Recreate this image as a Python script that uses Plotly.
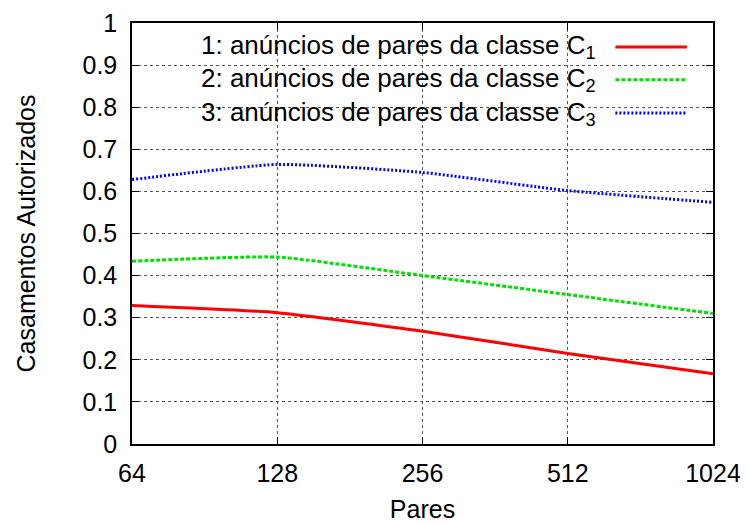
import plotly.graph_objects as go

pares = [64, 128, 256, 512, 1024]
classe_c1 = [0.329, 0.312, 0.268, 0.215, 0.167]
classe_c2 = [0.434, 0.444, 0.400, 0.355, 0.310]
classe_c3 = [0.628, 0.664, 0.645, 0.602, 0.574]
y_ticks = [0, 0.1, 0.2, 0.3, 0.4, 0.5, 0.6, 0.7, 0.8, 0.9, 1]
y_tick_labels = ["0", "0.1", "0.2", "0.3", "0.4", "0.5", "0.6", "0.7", "0.8", "0.9", "1"]
labels = ["1: anúncios de pares da classe C<sub>1</sub>",
          "2: anúncios de pares da classe C<sub>2</sub>",
          "3: anúncios de pares da classe C<sub>3</sub>"]
colors = ["#ff0000", "#00e000", "#0000ff"]
dashes = ["solid", "4px,2px", "2px,2px"]

FONT = "Liberation Sans, Arial, sans-serif"

fig = go.Figure()
for vals, col, dash, lab in zip([classe_c1, classe_c2, classe_c3], colors, dashes, labels):
    fig.add_trace(go.Scatter(x=pares, y=vals, mode="lines", name=lab,
                             line=dict(color=col, width=3, dash=dash, shape="spline", smoothing=0.5),
                             showlegend=False))

# legend box (opaque, covers grid)
fig.add_shape(type="rect", xref="paper", yref="paper", x0=0.0878, x1=1.0, y0=0.739, y1=1.0,
              fillcolor="white", line=dict(width=0), layer="between")

legend_y = [0.943, 0.865, 0.786]
for lab, col, dash, ly in zip(labels, colors, dashes, legend_y):
    fig.add_annotation(text=lab, xref="paper", yref="paper", x=0.802, y=ly,
                       xanchor="right", yanchor="middle", showarrow=False,
                       font=dict(family=FONT, size=26, color="black"))
    fig.add_shape(type="line", xref="paper", yref="paper", x0=0.832, x1=0.955, y0=ly, y1=ly,
                  line=dict(color=col, width=3, dash=dash), layer="above")

fig.update_xaxes(type="log", range=[1.80618, 3.0103], tickvals=pares,
                 ticktext=[str(p) for p in pares],
                 ticks="inside", ticklen=7, tickcolor="black", tickwidth=1,
                 showline=True, linecolor="black", linewidth=1.5, mirror="allticks",
                 showgrid=True, gridcolor="#555", griddash="dot", gridwidth=1,
                 zeroline=False, automargin=False, ticklabelstandoff=6,
                 title=dict(text="Pares", font=dict(family=FONT, size=25, color="black"), standoff=18),
                 tickfont=dict(family=FONT, size=25, color="black"))
fig.update_yaxes(range=[0, 1], tickvals=y_ticks, ticktext=y_tick_labels,
                 ticks="inside", ticklen=7, tickcolor="black", tickwidth=1,
                 showline=True, linecolor="black", linewidth=1.5, mirror="allticks",
                 showgrid=True, gridcolor="#555", griddash="dot", gridwidth=1,
                 zeroline=False, automargin=False, ticklabelstandoff=8,
                 title=dict(text="Casamentos Autorizados", font=dict(family=FONT, size=25, color="black"), standoff=40),
                 tickfont=dict(family=FONT, size=25, color="black"))

fig.update_layout(width=740, height=515, plot_bgcolor="white", paper_bgcolor="white",
                  margin=dict(l=124, r=35, t=15, b=79),
                  font=dict(family=FONT, size=25, color="black"))

fig.write_html("out.html")
